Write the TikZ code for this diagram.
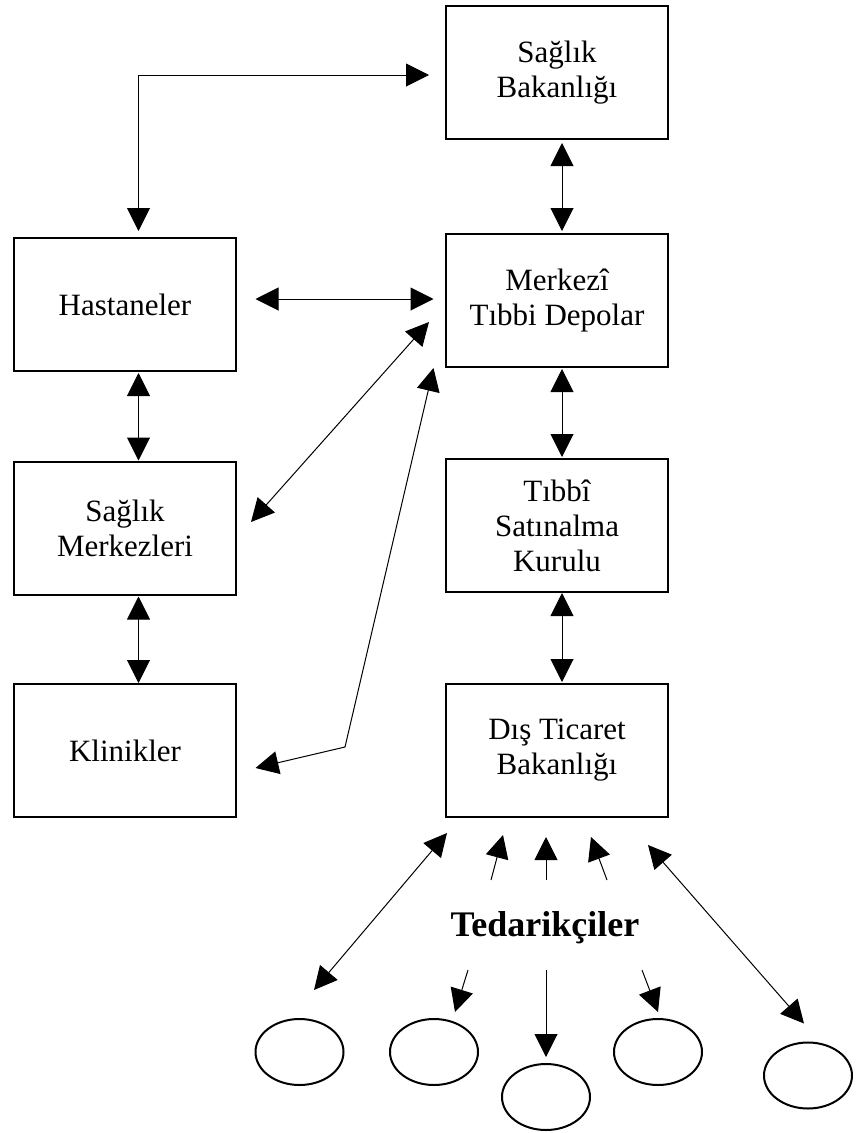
\documentclass[tikz,border=0pt]{standalone}
\usepackage{fontspec}
\setmainfont{Liberation Serif}
\usetikzlibrary{arrows.meta,calc,shapes.geometric}
\begin{document}
\begin{tikzpicture}[x=1pt,y=-1pt,
  box/.style={draw,line width=2pt,minimum width=222pt,minimum height=133pt,
    align=center,inner sep=0pt,font=\fontsize{31}{35}\selectfont},
  supplier/.style={draw,ellipse,line width=2pt,minimum width=88pt,
    minimum height=66pt,inner sep=0pt},
  link/.style={line width=1pt},
  >={Triangle[length=23pt,width=23pt]}]
\useasboundingbox (0,0) rectangle (855,1133);

% right column
\node[box] (sb)  at (557,72.5)  {Sağlık\\Bakanlığı};
\node[box] (mtd) at (557,300.5) {Merkezî\\Tıbbi Depolar};
\node[box] (tsk) at (557,525.5) {Tıbbî\\Satınalma\\Kurulu};
\node[box] (dtb) at (557,750.5) {Dış Ticaret\\Bakanlığı};

% left column
\node[box] (h)  at (125,304.5) {Hastaneler};
\node[box] (sm) at (125,528)   {Sağlık\\Merkezleri};
\node[box] (k)  at (125,750.5) {Klinikler};

% suppliers
\node[font=\fontsize{36}{40}\selectfont\bfseries,anchor=base] (ted) at (545,936) {Tedarikçiler};
\node[supplier] (e1) at (299.5,1052) {};
\node[supplier] (e2) at (434,1052) {};
\node[supplier] (e3) at (546,1097) {};
\node[supplier] (e4) at (658,1052) {};
\node[supplier] (e5) at (808,1075.5) {};

% links between the institutions
\draw[link,<->] ($(sb.west)+(-16,2.5)$) -| ($(h.north)+(13.5,-6)$);
\draw[link,<->] ($(sb.south)+(5,3)$) -- ($(mtd.north)+(5,-2)$);
\draw[link,<->] ($(h.east)+(18.5,-5.5)$) -- ($(mtd.west)+(-11.5,-1.5)$);
\draw[link,<->] ($(mtd.west)+(-16,21.5)$) -- ($(sm.east)+(14,-6)$);
\coordinate (bend) at (345,747);
\draw[link,<->] ($(mtd.south west)+(-11.5,0)$) -- (bend) -- ($(k.east)+(18.5,17.5)$);
\draw[link,<->] ($(mtd.south)+(5,1)$) -- ($(tsk.north)+(5,-1)$);
\draw[link,<->] ($(tsk.south)+(5,0)$) -- ($(dtb.north)+(5,-1)$);
\draw[link,<->] ($(h.south)+(13.5,1)$) -- ($(sm.north)+(13.5,0)$);
\draw[link,<->] ($(sm.south)+(13.5,1)$) -- ($(k.north)+(13.5,0)$);

% links with the suppliers
\draw[link,<->] ($(dtb.south west)+(2,15)$) -- ($(e1.north)+(14.5,-28)$);
\draw[link,<->] ($(dtb.south east)+(-21,27)$) -- ($(e5.north)+(-4,-18)$);
\coordinate (u1) at (491,880);
\coordinate (u2) at (546,880);
\coordinate (u3) at (607,880);
\draw[link,->] (u1) -- ($(dtb.south)+(-54,17)$);
\draw[link,->] (u2) -- ($(dtb.south)+(-11,19)$);
\draw[link,->] (u3) -- ($(dtb.south)+(34,19)$);
\coordinate (d1) at (468,970);
\coordinate (d2) at (546,970);
\coordinate (d3) at (642,970);
\draw[link,->] (d1) -- ($(e2.north)+(21,-6)$);
\draw[link,->] (d2) -- ($(e3.north)+(0,-6)$);
\draw[link,->] (d3) -- ($(e4.north)+(0,-6)$);
\end{tikzpicture}
\end{document}
